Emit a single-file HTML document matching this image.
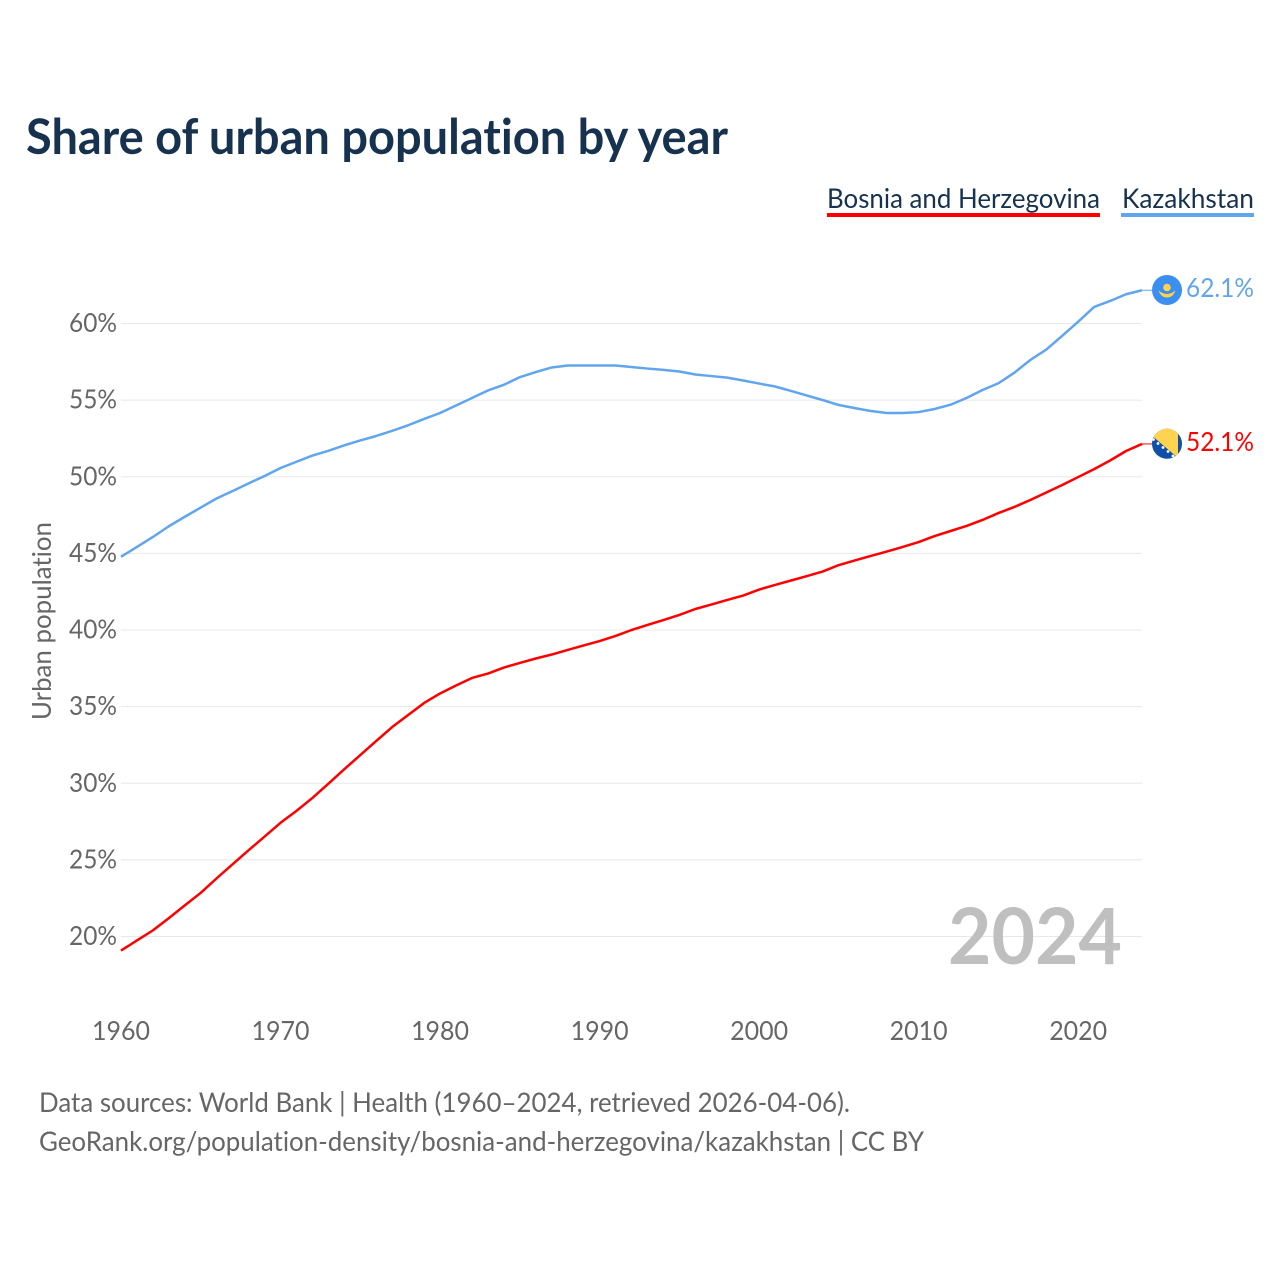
<!DOCTYPE html>
<html lang="en">
<head>
<meta charset="utf-8">
<title>Share of urban population by year</title>
<style>
html,body{margin:0;padding:0;background:#fff;width:1280px;height:1280px;overflow:hidden}
svg{display:block}
text{font-family:"Lato","Carlito","Liberation Sans",sans-serif;font-variant-ligatures:none}
</style>
</head>
<body>
<svg id="chart" xmlns="http://www.w3.org/2000/svg" width="1280" height="1280" viewBox="0 0 1280 1280">
  <rect width="1280" height="1280" fill="#fff"/>
  <text x="26" y="154" font-size="49" font-weight="700" fill="#17324f" textLength="702" lengthAdjust="spacingAndGlyphs">Share of urban population by year</text>
  <g>
    <g>
      <text x="827" y="208" font-size="27" fill="#17324f" textLength="273" lengthAdjust="spacingAndGlyphs">Bosnia and Herzegovina</text>
      <rect x="827" y="213" width="273" height="4" fill="#ff0000"/>
    </g>
    <g>
      <text x="1122" y="208" font-size="27" fill="#17324f" textLength="132" lengthAdjust="spacingAndGlyphs">Kazakhstan</text>
      <rect x="1121" y="213" width="133" height="4" fill="#60a5ee"/>
    </g>
  </g>
  <g id="grid"></g>
  <g id="yticks"></g>
  <g id="xticks"></g>
  <text transform="translate(51,720) rotate(-90)" font-size="26" fill="#666" textLength="198" lengthAdjust="spacingAndGlyphs">Urban population</text>
  <text x="948" y="964" font-size="78" font-weight="700" fill="#bfbfbf" textLength="174" lengthAdjust="spacingAndGlyphs">2024</text>
  <g id="series"></g>
  <defs>
    <clipPath id="flag-clip-ba"><circle cx="1167" cy="443.800" r="15"/></clipPath>
  </defs>
  <g>
    <circle cx="1167" cy="290" r="15" fill="#3a8ff0"/>
    <circle cx="1167" cy="287.500" r="3.800" fill="#ffd24d"/>
    <path d="M1158.500 290.500 Q1163 294 1167 294 Q1171 294 1175.500 290.500 Q1173 297.500 1167 297.500 Q1161 297.500 1158.500 290.500 Z" fill="#ffd24d"/>
  </g>
  <g clip-path="url(#flag-clip-ba)">
    <rect x="1152" y="428" width="30" height="32" fill="#0f4fa8"/>
    <path d="M1143 428 H1178 V458 Z" fill="#ffd34f"/>
    <g fill="#fff">
      <circle cx="1153.500" cy="439.500" r="1.400"/><circle cx="1158" cy="443.500" r="1.400"/><circle cx="1163" cy="447.500" r="1.400"/><circle cx="1168" cy="451.500" r="1.400"/><circle cx="1173" cy="456" r="1.400"/>
    </g>
  </g>
  <text id="label-kz" x="1186" y="297" font-size="26.5" fill="#60a5ee" textLength="68" lengthAdjust="spacingAndGlyphs"></text>
  <text id="label-ba" x="1186" y="451" font-size="26.5" fill="#ff0000" textLength="68" lengthAdjust="spacingAndGlyphs"></text>
  <g>
    <text x="39" y="1112" font-size="27" fill="#666" textLength="811" lengthAdjust="spacingAndGlyphs">Data sources: World Bank | Health (1960–2024, retrieved 2026-04-06).</text>
    <text x="39" y="1151" font-size="27" fill="#666" textLength="885" lengthAdjust="spacingAndGlyphs">GeoRank.org/population-density/bosnia-and-herzegovina/kazakhstan | CC BY</text>
  </g>
</svg>
<script>
const years = [1960,1961,1962,1963,1964,1965,1966,1967,1968,1969,1970,1971,1972,1973,1974,1975,1976,1977,1978,1979,1980,1981,1982,1983,1984,1985,1986,1987,1988,1989,1990,1991,1992,1993,1994,1995,1996,1997,1998,1999,2000,2001,2002,2003,2004,2005,2006,2007,2008,2009,2010,2011,2012,2013,2014,2015,2016,2017,2018,2019,2020,2021,2022,2023,2024];
const kazakhstan = [44.78,45.42,46.07,46.77,47.39,47.99,48.59,49.07,49.57,50.05,50.57,50.98,51.38,51.69,52.05,52.37,52.66,53.0,53.36,53.77,54.16,54.65,55.14,55.63,56.0,56.5,56.83,57.13,57.26,57.26,57.26,57.26,57.16,57.06,56.97,56.87,56.67,56.57,56.47,56.28,56.08,55.89,55.6,55.3,55.0,54.68,54.48,54.29,54.16,54.16,54.22,54.42,54.7,55.14,55.66,56.1,56.79,57.62,58.3,59.2,60.12,61.08,61.47,61.91,62.17];
const bosnia = [19.08,19.74,20.4,21.2,22.03,22.85,23.8,24.72,25.63,26.52,27.42,28.2,29.04,29.97,30.92,31.84,32.76,33.67,34.45,35.24,35.86,36.38,36.87,37.16,37.55,37.85,38.14,38.4,38.7,38.99,39.28,39.61,40.0,40.33,40.65,40.98,41.37,41.66,41.96,42.25,42.64,42.94,43.23,43.52,43.82,44.24,44.54,44.83,45.12,45.42,45.74,46.13,46.46,46.79,47.18,47.63,48.03,48.48,48.97,49.46,49.98,50.5,51.06,51.68,52.14];
const yTicks = [20,25,30,35,40,45,50,55,60];
const xTicks = [1960,1970,1980,1990,2000,2010,2020];
const endLabelKazakhstan = "62.1%";
const endLabelBosnia = "52.1%";

const NS = "http://www.w3.org/2000/svg";
const xScale = function (year) { return 121 + (year - 1960) * (1142 - 121) / 64; };
const yScale = function (value) { return 936.5 - (value - 20) * (936.5 - 323.5) / 40; };

const gridGroup = document.getElementById("grid");
const yGroup = document.getElementById("yticks");
yTicks.forEach(function (tick) {
  const line = document.createElementNS(NS, "line");
  
  
  line.setAttribute("x1", 121);
  line.setAttribute("x2", 1142);
  line.setAttribute("y1", yScale(tick));
  line.setAttribute("y2", yScale(tick));
  line.setAttribute("stroke", "#e8e8e8");
  line.setAttribute("stroke-width", "1");
  gridGroup.appendChild(line);

  const label = document.createElementNS(NS, "text");
  
  
  label.setAttribute("x", 69);
  label.setAttribute("y", yScale(tick) + 8.5);
  label.setAttribute("font-size", "26");
  label.setAttribute("fill", "#666");
  label.setAttribute("textLength", "48");
  label.setAttribute("lengthAdjust", "spacingAndGlyphs");
  label.textContent = tick + "%";
  yGroup.appendChild(label);
});

const xGroup = document.getElementById("xticks");
xTicks.forEach(function (tick) {
  const label = document.createElementNS(NS, "text");
  
  
  label.setAttribute("x", xScale(tick) - 29);
  label.setAttribute("y", 1040);
  label.setAttribute("font-size", "26");
  label.setAttribute("fill", "#666");
  label.setAttribute("textLength", "58");
  label.setAttribute("lengthAdjust", "spacingAndGlyphs");
  label.textContent = tick;
  xGroup.appendChild(label);
});

const seriesGroup = document.getElementById("series");
function buildPoints(values) {
  return values.map(function (value, i) {
    return xScale(years[i]).toFixed(2) + "," + yScale(value).toFixed(2);
  }).join(" ");
}

const bosniaLine = document.createElementNS(NS, "polyline");


bosniaLine.setAttribute("points", buildPoints(bosnia));
bosniaLine.setAttribute("fill", "none");
bosniaLine.setAttribute("stroke", "#ff0000");
bosniaLine.setAttribute("stroke-width", "2.5");
bosniaLine.setAttribute("stroke-linejoin", "round");
seriesGroup.appendChild(bosniaLine);

const kazakhstanLine = document.createElementNS(NS, "polyline");


kazakhstanLine.setAttribute("points", buildPoints(kazakhstan));
kazakhstanLine.setAttribute("fill", "none");
kazakhstanLine.setAttribute("stroke", "#60a5ee");
kazakhstanLine.setAttribute("stroke-width", "2.5");
kazakhstanLine.setAttribute("stroke-linejoin", "round");
seriesGroup.appendChild(kazakhstanLine);

const bosniaLeader = document.createElementNS(NS, "line");


bosniaLeader.setAttribute("x1", xScale(years[years.length - 1]));
bosniaLeader.setAttribute("x2", 1152);
bosniaLeader.setAttribute("y1", yScale(bosnia[bosnia.length - 1]));
bosniaLeader.setAttribute("y2", yScale(bosnia[bosnia.length - 1]));
bosniaLeader.setAttribute("stroke", "#ff0000");
bosniaLeader.setAttribute("stroke-width", "1");
seriesGroup.appendChild(bosniaLeader);

const kazakhstanLeader = document.createElementNS(NS, "line");


kazakhstanLeader.setAttribute("x1", xScale(years[years.length - 1]));
kazakhstanLeader.setAttribute("x2", 1152);
kazakhstanLeader.setAttribute("y1", yScale(kazakhstan[kazakhstan.length - 1]));
kazakhstanLeader.setAttribute("y2", yScale(kazakhstan[kazakhstan.length - 1]));
kazakhstanLeader.setAttribute("stroke", "#60a5ee");
kazakhstanLeader.setAttribute("stroke-width", "1");
seriesGroup.appendChild(kazakhstanLeader);

document.getElementById("label-kz").textContent = endLabelKazakhstan;
document.getElementById("label-ba").textContent = endLabelBosnia;
</script>
</body>
</html>
